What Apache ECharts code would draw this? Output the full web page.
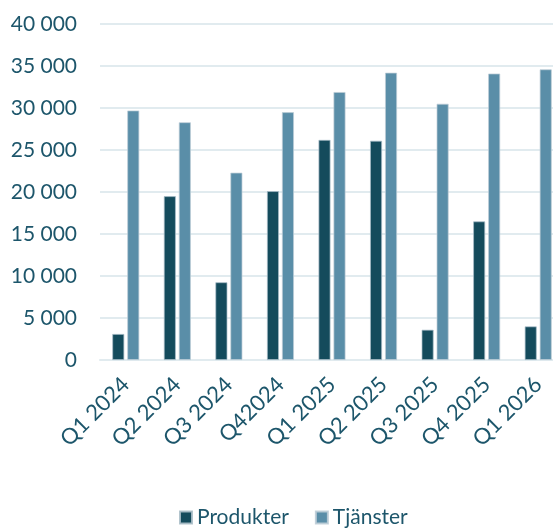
<!DOCTYPE html>
<html><head><meta charset="utf-8">
<script src="https://cdn.jsdelivr.net/npm/echarts@6/dist/echarts.min.js"></script>
<style>html,body{margin:0;padding:0;background:#fff}#c{width:553px;height:530px}</style>
</head><body><div id="c"></div>
<script>
const categories = ['Q1 2024','Q2 2024','Q3 2024','Q42024','Q1 2025','Q2 2025','Q3 2025','Q4 2025','Q1 2026'];
const produkter = [3100, 19500, 9250, 20100, 26200, 26100, 3600, 16500, 4000];
const tjanster = [29700, 28300, 22300, 29500, 31900, 34200, 30500, 34100, 34600];
const seriesNames = ['Produkter', 'Tjänster'];

const txt = '#1d566b';
const font = 'Lato';
const chart = echarts.init(document.getElementById('c'));
chart.setOption({
  animation: false,
  textStyle: { fontFamily: font },
  grid: { left: 100, right: -11, top: 24, bottom: 170, outerBoundsMode: 'none' },
  legend: {
    bottom: -3, left: 174, itemWidth: 12, itemHeight: 12, itemGap: 26,
    icon: 'rect',
    textStyle: { color: txt, fontSize: 21, fontFamily: font },
    data: seriesNames
  },
  xAxis: {
    type: 'category', data: categories,
    axisLine: { lineStyle: { color: '#e1ebef', width: 2 } },
    axisTick: { show: false },
    axisLabel: { rotate: 45, color: txt, fontSize: 22, margin: 21, interval: 0 }
  },
  yAxis: {
    type: 'value', min: 0, max: 40000, interval: 5000,
    axisLine: { show: false }, axisTick: { show: false },
    splitLine: { lineStyle: { color: '#e1ebef', width: 2 } },
    axisLabel: { color: txt, fontSize: 21, margin: 23,
      formatter: v => v === 0 ? '0' : String(v).replace(/\B(?=(\d{3})+(?!\d))/g, ' ') }
  },
  series: [
    { name: seriesNames[0], type: 'bar', data: produkter, barWidth: 12, barGap: '25%',
      itemStyle: { color: '#144b5c', borderColor: 'rgba(170,190,200,0.9)', borderWidth: 0.8 } },
    { name: seriesNames[1], type: 'bar', data: tjanster, barWidth: 12,
      itemStyle: { color: '#5a8ea8', borderColor: 'rgba(190,205,215,0.9)', borderWidth: 0.8 } }
  ]
});
</script></body></html>
